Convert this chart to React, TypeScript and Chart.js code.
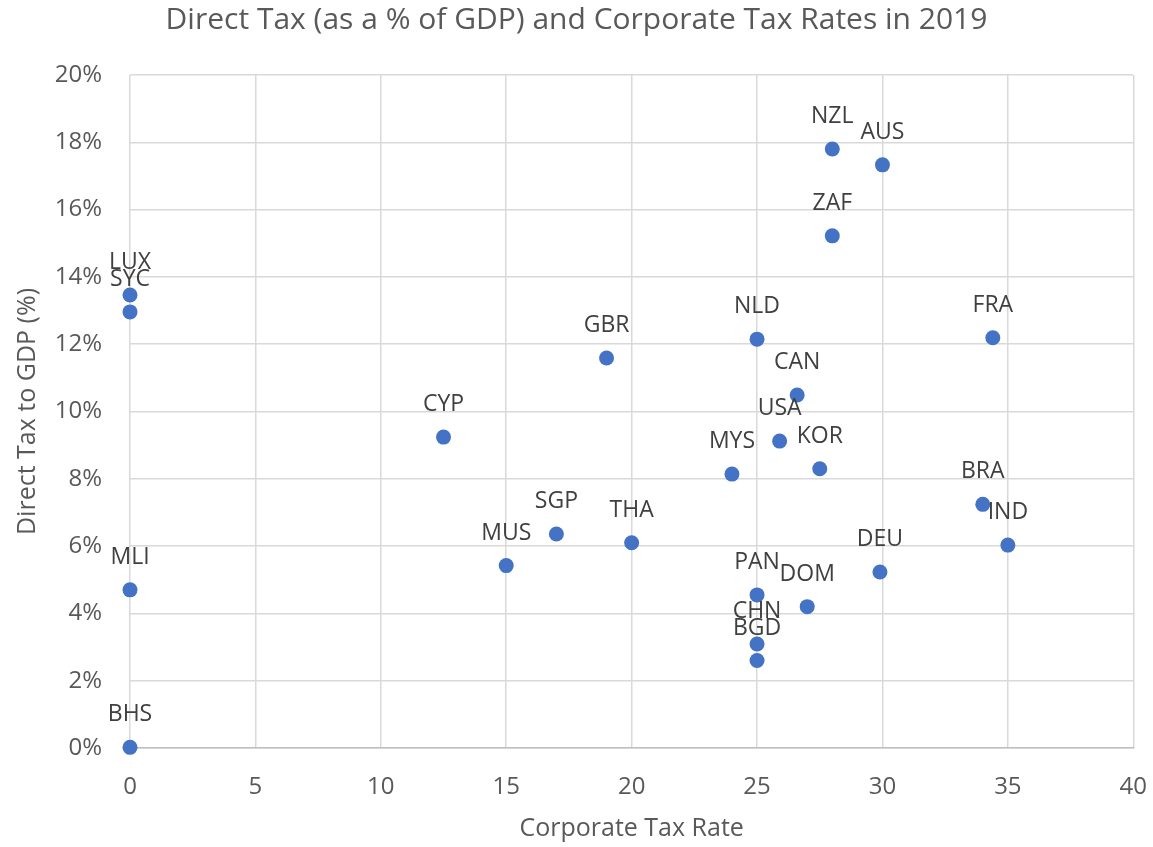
import React, { useEffect, useRef } from "react";
import { Chart, registerables } from "chart.js";

Chart.register(...registerables);

const countries = ["LUX", "SYC", "MLI", "BHS", "CYP", "MUS", "SGP", "GBR", "THA", "MYS", "NLD", "PAN", "CHN", "BGD", "USA", "CAN", "DOM", "KOR", "NZL", "ZAF", "AUS", "DEU", "BRA", "FRA", "IND"];
const corporateTaxRate = [0, 0, 0, 0, 12.5, 15, 17, 19, 20, 24, 25, 25, 25, 25, 25.9, 26.6, 27, 27.5, 28, 28, 30, 29.9, 34, 34.4, 35];
const directTaxPct = [13.46, 12.96, 4.7, 0.02, 9.24, 5.42, 6.36, 11.59, 6.1, 8.14, 12.15, 4.55, 3.09, 2.6, 9.12, 10.49, 4.2, 8.3, 17.8, 15.22, 17.33, 5.23, 7.24, 12.19, 6.03];
const yTicks = [0, 2, 4, 6, 8, 10, 12, 14, 16, 18, 20];
const xTicks = [0, 5, 10, 15, 20, 25, 30, 35, 40];

const FONT = "'Open Sans', sans-serif";

const labelPlugin = {
  id: "pointLabels",
  afterDatasetsDraw(chart: any) {
    const ctx = chart.ctx;
    const meta = chart.getDatasetMeta(0);
    ctx.save();
    ctx.font = `23px ${FONT}`;
    ctx.fillStyle = "#404040";
    ctx.textAlign = "center";
    ctx.textBaseline = "alphabetic";
    meta.data.forEach((el: any, i: number) => {
      ctx.fillText(countries[i], el.x, el.y - 26);
    });
    ctx.restore();
  },
};

export default function App() {
  const ref = useRef<HTMLCanvasElement>(null);
  useEffect(() => {
    const data = countries.map((_, i) => ({ x: corporateTaxRate[i], y: directTaxPct[i] }));
    const chart = new Chart(ref.current!, {
      type: "scatter",
      data: {
        datasets: [
          {
            data,
            backgroundColor: "#4472C4",
            borderColor: "#4472C4",
            pointRadius: 7.5,
            pointHoverRadius: 7.5,
            borderWidth: 0,
            clip: false,
          },
        ],
      },
      plugins: [labelPlugin],
      options: {
        animation: false,
        responsive: false,
        layout: { padding: { left: 0, right: 0, top: 0, bottom: 0 } },
        plugins: {
          legend: { display: false },
          tooltip: { enabled: false },
          title: {
            display: true,
            text: "Direct Tax (as a % of GDP) and Corporate Tax Rates in 2019",
            color: "#595959",
            font: { family: FONT, size: 30, weight: "normal" },
            padding: { top: 2, bottom: 37 },
          },
        },
        scales: {
          x: {
            type: "linear",
            min: 0,
            max: 40,
            afterBuildTicks: (s: any) => {
              s.ticks = xTicks.map((v) => ({ value: v }));
            },
            afterFit: (s: any) => {
              s.height = 99;
            },
            grid: { color: "#d9d9d9", lineWidth: 1.5, drawTicks: true, tickLength: 19, tickColor: "rgba(0,0,0,0)" },
            border: { display: true, color: "#bfbfbf", width: 1.5 },
            ticks: {
              color: "#595959",
              font: { family: FONT, size: 24 },
              padding: 6,
            },
            title: {
              display: true,
              text: "Corporate Tax Rate",
              color: "#595959",
              font: { family: FONT, size: 25 },
              padding: { top: 4, bottom: 3 },
            },
          },
          y: {
            type: "linear",
            min: 0,
            max: 20,
            afterBuildTicks: (s: any) => {
              s.ticks = yTicks.map((v) => ({ value: v }));
            },
            afterFit: (s: any) => {
              s.width = 130;
            },
            grid: { color: "#d9d9d9", lineWidth: 1.5, drawTicks: true, tickLength: 25, tickColor: "rgba(0,0,0,0)" },
            border: { display: false },
            ticks: {
              color: "#595959",
              font: { family: FONT, size: 24 },
              padding: 3,
              callback: (v: any) => `${v}%`,
            },
            title: {
              display: true,
              text: "Direct Tax to GDP (%)",
              color: "#595959",
              font: { family: FONT, size: 25 },
              padding: { top: 13, bottom: 4 },
            },
          },
        },
      },
    });
    return () => chart.destroy();
  }, []);
  return (
    <div style={{ position: "fixed", left: 0, top: 0, width: 1153, height: 847, background: "#fff" }}>
      <canvas ref={ref} width={1153} height={847} style={{ width: 1153, height: 847 }} />
    </div>
  );
}
